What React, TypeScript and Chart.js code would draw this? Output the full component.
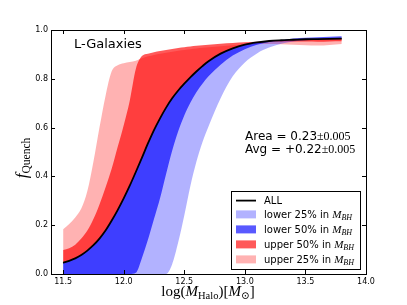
import { useEffect, useRef } from "react";
import { Chart, registerables } from "chart.js";

Chart.register(...registerables);

// ---- data ----
const xValues = [11.5, 11.55, 11.6, 11.65, 11.7, 11.75, 11.8, 11.85, 11.9, 11.95, 12.0, 12.05, 12.1, 12.15, 12.2, 12.25, 12.3, 12.35, 12.4, 12.45, 12.5, 12.55, 12.6, 12.65, 12.7, 12.8, 12.9, 13.0, 13.1, 13.2, 13.3, 13.4, 13.5, 13.6, 13.7, 13.8];
const allFrac = [0.046, 0.054, 0.064, 0.078, 0.096, 0.118, 0.145, 0.178, 0.218, 0.262, 0.31, 0.362, 0.418, 0.476, 0.535, 0.59, 0.638, 0.682, 0.72, 0.752, 0.78, 0.806, 0.83, 0.852, 0.872, 0.903, 0.925, 0.94, 0.949, 0.955, 0.958, 0.96, 0.962, 0.963, 0.964, 0.965];
const lower25 = [0, 0, 0, 0, 0, 0, 0, 0, 0, 0, 0, 0, 0, 0, 0, 0, 0, 0, 0.04, 0.13, 0.24, 0.36, 0.46, 0.54, 0.605, 0.72, 0.81, 0.867, 0.904, 0.928, 0.944, 0.953, 0.958, 0.962, 0.964, 0.966];
const lower50 = [0, 0, 0, 0, 0, 0, 0, 0, 0, 0, 0, 0, 0.005, 0.065, 0.14, 0.225, 0.31, 0.41, 0.505, 0.585, 0.65, 0.702, 0.745, 0.78, 0.81, 0.858, 0.895, 0.921, 0.94, 0.951, 0.958, 0.965, 0.968, 0.97, 0.972, 0.974];
const upper50 = [0.098, 0.106, 0.12, 0.145, 0.178, 0.225, 0.285, 0.355, 0.43, 0.52, 0.61, 0.71, 0.84, 0.893, 0.903, 0.909, 0.914, 0.918, 0.922, 0.926, 0.929, 0.932, 0.935, 0.938, 0.94, 0.944, 0.947, 0.95, 0.952, 0.953, 0.953, 0.953, 0.953, 0.952, 0.953, 0.954];
const upper25 = [0.183, 0.205, 0.232, 0.268, 0.34, 0.46, 0.6, 0.73, 0.83, 0.856, 0.864, 0.869, 0.874, 0.884, 0.892, 0.898, 0.903, 0.907, 0.911, 0.915, 0.918, 0.921, 0.924, 0.927, 0.929, 0.933, 0.937, 0.94, 0.942, 0.943, 0.942, 0.94, 0.938, 0.936, 0.939, 0.943];

const xTicks = [11.5, 12.0, 12.5, 13.0, 13.5, 14.0];
const yTicks = [0, 0.2, 0.4, 0.6, 0.8, 1.0];
const xMin = 11.4;
const xMax = 14.0;

const titleText = "L-Galaxies";
const statLines = [
  ["Area = 0.23", "\u00B10.005"],
  ["Avg = +0.22", "\u00B10.005"],
];
const legendNames = ["ALL", "lower 25% in ", "lower 50% in ", "upper 50% in ", "upper 25% in "];

// ---- styles ----
const SANS = '"DejaVu Sans", sans-serif';
const SERIF = '"Liberation Serif", "DejaVu Serif", serif';
const C_L25 = "rgba(0,0,255,0.3)";
const C_L50 = "rgba(0,0,255,0.65)";
const C_U50 = "rgba(255,0,0,0.65)";
const C_U25 = "rgba(255,0,0,0.3)";

type Run = { t: string; f: string; dy?: number };

function runsWidth(ctx: CanvasRenderingContext2D, runs: Run[]) {
  let w = 0;
  for (const r of runs) {
    ctx.font = r.f;
    w += ctx.measureText(r.t).width;
  }
  return w;
}

function drawRuns(ctx: CanvasRenderingContext2D, runs: Run[], x: number, y: number) {
  let cx = x;
  for (const r of runs) {
    ctx.font = r.f;
    ctx.fillText(r.t, cx, y + (r.dy || 0));
    cx += ctx.measureText(r.t).width;
  }
}

const decorPlugin = {
  id: "decor",
  afterDraw(chart: any) {
    const ctx: CanvasRenderingContext2D = chart.ctx;
    const a = chart.chartArea;
    const sx = chart.scales.x;
    const sy = chart.scales.y;
    ctx.save();
    ctx.strokeStyle = "#000";
    ctx.fillStyle = "#000";
    ctx.lineWidth = 1;
    // frame
    ctx.strokeRect(a.left + 0.5, a.top + 0.5, a.right - a.left, a.bottom - a.top);
    // inward ticks on all sides
    const tl = 4;
    ctx.beginPath();
    for (const v of xTicks) {
      const px = Math.round(sx.getPixelForValue(v)) + 0.5;
      ctx.moveTo(px, a.bottom);
      ctx.lineTo(px, a.bottom - tl);
      ctx.moveTo(px, a.top);
      ctx.lineTo(px, a.top + tl);
    }
    for (const v of yTicks) {
      const py = Math.round(sy.getPixelForValue(v)) + 0.5;
      ctx.moveTo(a.left, py);
      ctx.lineTo(a.left + tl, py);
      ctx.moveTo(a.right, py);
      ctx.lineTo(a.right - tl, py);
    }
    ctx.stroke();

    ctx.textAlign = "left";
    ctx.textBaseline = "alphabetic";

    // title
    ctx.font = `13px ${SANS}`;
    ctx.fillText(titleText, 74, 47.5);

    // stats
    statLines.forEach((ln, i) => {
      drawRuns(
        ctx,
        [
          { t: ln[0], f: `12px ${SANS}` },
          { t: ln[1], f: `12px ${SERIF}` },
        ],
        245,
        140 + i * 12.5
      );
    });

    // legend
    const lx = 231.5, ly = 191.5, lw = 129, lh = 78;
    ctx.fillStyle = "#fff";
    ctx.fillRect(lx, ly, lw, lh);
    ctx.strokeStyle = "#000";
    ctx.strokeRect(lx, ly, lw, lh);
    const rowY = [200.6, 214.4, 229.4, 244.4, 259.4];
    const patchColors = [null, C_L25, C_L50, C_U50, C_U25];
    legendNames.forEach((name, i) => {
      const cy = rowY[i];
      if (i === 0) {
        ctx.strokeStyle = "#000";
        ctx.lineWidth = 1.8;
        ctx.beginPath();
        ctx.moveTo(236, cy);
        ctx.lineTo(256, cy);
        ctx.stroke();
      } else {
        ctx.fillStyle = patchColors[i] as string;
        ctx.fillRect(236, cy - 4, 20, 8);
      }
      ctx.fillStyle = "#000";
      const runs: Run[] = [{ t: name, f: `10px ${SANS}` }];
      if (i > 0) {
        runs.push({ t: "M", f: `italic 11px ${SERIF}` });
        runs.push({ t: "BH", f: `italic 8px ${SERIF}`, dy: 2 });
      }
      drawRuns(ctx, runs, 264, cy + 3.6);
    });

    // x axis label
    const xl: Run[] = [
      { t: "log(", f: `15px ${SERIF}` },
      { t: "M", f: `italic 15px ${SERIF}` },
      { t: "Halo", f: `10.5px ${SERIF}`, dy: 3 },
      { t: ")[", f: `15px ${SERIF}` },
      { t: "M", f: `italic 15px ${SERIF}` },
      { t: "\u2299", f: `10.5px ${SERIF}`, dy: 3 },
      { t: "]", f: `15px ${SERIF}` },
    ];
    const xw = runsWidth(ctx, xl);
    drawRuns(ctx, xl, 208 - xw / 2, 296);

    // y axis label
    const yl: Run[] = [
      { t: "f", f: `italic 17px ${SERIF}` },
      { t: "Quench", f: `11.5px ${SERIF}`, dy: 2.5 },
    ];
    const yw = runsWidth(ctx, yl);
    ctx.translate(27, 158);
    ctx.rotate(-Math.PI / 2);
    drawRuns(ctx, yl, -yw / 2, 0);
    ctx.restore();
  },
};

function band(label: string, ys: number[], color: string) {
  return {
    label,
    data: xValues.map((x, i) => ({ x, y: ys[i] })),
    borderColor: "rgba(0,0,0,0)",
    borderWidth: 0,
    backgroundColor: color,
    fill: 0,
    pointRadius: 0,
    cubicInterpolationMode: "monotone",
  };
}

export default function App() {
  const ref = useRef<HTMLCanvasElement | null>(null);
  useEffect(() => {
    if (!ref.current) return;
    const chart = new Chart(ref.current, {
      type: "line",
      data: {
        datasets: [
          {
            label: "ALL",
            data: xValues.map((x, i) => ({ x, y: allFrac[i] })),
            borderColor: "#000",
            borderWidth: 1.8,
            pointRadius: 0,
            fill: false,
            cubicInterpolationMode: "monotone",
          },
          band("lower 25%", lower25, C_L25),
          band("lower 50%", lower50, C_L50),
          band("upper 50%", upper50, C_U50),
          band("upper 25%", upper25, C_U25),
        ] as any,
      },
      options: {
        animation: false,
        responsive: false,
        devicePixelRatio: 1,
        layout: { padding: { left: 0, top: 30, right: 41, bottom: 0 } },
        plugins: { legend: { display: false }, tooltip: { enabled: false } },
        scales: {
          x: {
            type: "linear",
            min: xMin,
            max: xMax,
            afterBuildTicks: (s: any) => {
              s.ticks = xTicks.map((v) => ({ value: v }));
            },
            afterFit: (s: any) => {
              s.height = 31;
            },
            grid: { display: false, drawTicks: false },
            border: { display: false },
            ticks: {
              padding: 3,
              autoSkip: false,
              maxRotation: 0,
              color: "#000",
              font: { family: SANS, size: 8 },
              callback: (v: any) => Number(v).toFixed(1),
            },
          },
          y: {
            type: "linear",
            min: 0,
            max: 1,
            afterBuildTicks: (s: any) => {
              s.ticks = yTicks.map((v) => ({ value: v }));
            },
            afterFit: (s: any) => {
              s.width = 51;
            },
            grid: { display: false, drawTicks: false },
            border: { display: false },
            ticks: {
              padding: 3,
              autoSkip: false,
              color: "#000",
              font: { family: SANS, size: 8 },
              callback: (v: any) => Number(v).toFixed(1),
            },
          },
        },
      } as any,
      plugins: [decorPlugin],
    });
    return () => chart.destroy();
  }, []);

  return (
    <div style={{ position: "fixed", left: 0, top: 0, width: 407, height: 305, background: "#fff" }}>
      <canvas ref={ref} width={407} height={305} style={{ display: "block" }} />
    </div>
  );
}
